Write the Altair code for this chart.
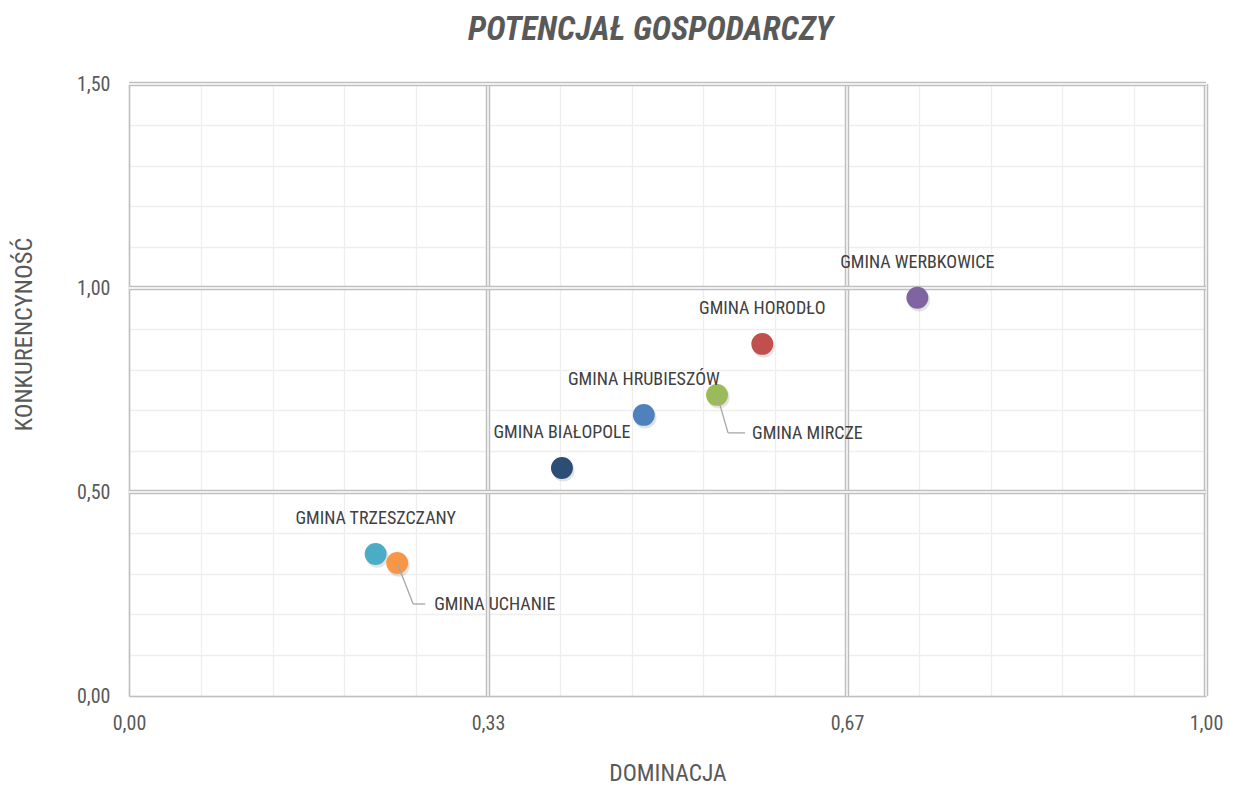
import altair as alt
import pandas as pd

# ---- data ----
names = ["Gmina Trzeszczany", "Gmina Uchanie", "Gmina Białopole", "Gmina Hrubieszów",
         "Gmina Mircze", "Gmina Horodło", "Gmina Werbkowice"]
dominacja = [0.229, 0.249, 0.402, 0.478, 0.546, 0.588, 0.732]
konkurencyjnosc = [0.348, 0.326, 0.559, 0.689, 0.738, 0.863, 0.976]
colors = ["#4BACC6", "#F79646", "#2C4D75", "#4F81BD", "#9BBB59", "#C0504D", "#8064A2"]

x_minor = [i / 15 for i in range(16)]
y_minor = [i / 10 for i in range(16)]
x_major = [1 / 3, 2 / 3, 1.0]
y_major = [0.5, 1.0, 1.5]

FONT = "Liberation Sans Narrow, Arial Narrow, Roboto Condensed, Liberation Sans, sans-serif"
TXT = "#595959"

df = pd.DataFrame({
    "name": names,
    "label": [n.upper() for n in names],
    "dom": dominacja,
    "kon": konkurencyjnosc,
})

xs = alt.Scale(domain=[0, 1], nice=False, zero=False)
ys = alt.Scale(domain=[0, 1.5], nice=False, zero=False)

x_axis = alt.Axis(
    title="DOMINACJA", values=x_minor, grid=True, gridColor="#EEEEEE", gridWidth=1.3,
    ticks=False, tickSize=0, domainColor="#BFBFBF", domainWidth=1.6,
    labelExpr="abs(datum.value*3 - round(datum.value*3)) < 0.001 ? replace(format(datum.value, '.2f'), '.', ',') : ''",
    labelFont=FONT, labelFontSize=20, labelColor=TXT, labelPadding=17,
    labelOverlap=False, labelFlush=False, labelBaseline="top",
    titleFont=FONT, titleFontSize=23.5, titleColor=TXT, titleFontWeight="normal",
    titleY=77, titleBaseline="middle")
y_axis = alt.Axis(
    title="KONKURENCYNOŚĆ", values=y_minor, grid=True, gridColor="#EEEEEE", gridWidth=1.3,
    ticks=False, tickSize=0, domainColor="#BFBFBF", domainWidth=1.6,
    labelExpr="abs(datum.value*2 - round(datum.value*2)) < 0.001 ? replace(format(datum.value, '.2f'), '.', ',') : ''",
    labelFont=FONT, labelFontSize=20, labelColor=TXT, labelPadding=19,
    labelOverlap=False, labelFlush=False,
    titleFont=FONT, titleFontSize=24.5, titleColor=TXT, titleFontWeight="normal",
    titleX=-105, titleY=250, titleAlign="center", titleBaseline="middle", titleAngle=-90)

X = alt.X("dom:Q", scale=xs, axis=x_axis)
Y = alt.Y("kon:Q", scale=ys, axis=y_axis)

base = alt.Chart(df)

points = base.mark_circle(size=480, opacity=1).encode(
    x=X, y=Y,
    color=alt.Color("name:N", scale=alt.Scale(domain=names, range=colors), legend=None),
)

shadow = base.mark_circle(size=500, color="#000000", opacity=0.11, xOffset=1.5, yOffset=2.5).encode(x=X, y=Y)

xmaj = pd.DataFrame({"dom": x_major})
ymaj = pd.DataFrame({"kon": y_major})
vmaj_g = alt.Chart(xmaj).mark_rule(color="#BFBFBF", strokeWidth=4.5).encode(x=X)
vmaj_w = alt.Chart(xmaj).mark_rule(color="#FFFFFF", strokeWidth=1.4).encode(x=X)
hmaj_g = alt.Chart(ymaj).mark_rule(color="#BFBFBF", strokeWidth=4.5).encode(y=Y)
hmaj_w = alt.Chart(ymaj).mark_rule(color="#FFFFFF", strokeWidth=1.4).encode(y=Y)

below_right = ["Gmina Mircze", "Gmina Uchanie"]

labels_above = base.transform_filter(
    ~alt.FieldOneOfPredicate(field="name", oneOf=below_right)
).mark_text(font=FONT, fontSize=18, color="#404040", align="center", baseline="middle", dy=-35).encode(
    x=X, y=Y, text="label:N",
)

mircze = base.transform_filter(alt.datum.name == "Gmina Mircze")
uchanie = base.transform_filter(alt.datum.name == "Gmina Uchanie")


def leader(chart, dx1, dy1, dx2):
    enc = dict(x=X, y=Y, x2="dom:Q", y2="kon:Q")
    seg1 = chart.mark_rule(color="#A6A6A6", strokeWidth=1.3, x2Offset=dx1, y2Offset=dy1).encode(**enc)
    seg2 = chart.mark_rule(color="#A6A6A6", strokeWidth=1.3, xOffset=dx1, yOffset=dy1,
                           x2Offset=dx2, y2Offset=dy1).encode(**enc)
    return seg1 + seg2


def side_label(chart, dx, dy):
    return chart.mark_text(font=FONT, fontSize=18, color="#404040", align="left",
                           baseline="middle", dx=dx, dy=dy).encode(
        x=X, y=Y, text="label:N",
    )


chart = alt.layer(
    vmaj_g, vmaj_w, hmaj_g, hmaj_w,
    shadow,
    points,
    leader(mircze, 11, 38, 28),
    leader(uchanie, 16, 41, 28),
    labels_above,
    side_label(mircze, 35, 39),
    side_label(uchanie, 37, 42),
).properties(
    width=1077,
    height=612,
    title=alt.Title("POTENCJAŁ GOSPODARCZY", font=FONT, fontSize=33, fontStyle="italic",
                    fontWeight="bold", color=TXT, anchor="middle", dx=-17, offset=27),
    autosize=alt.AutoSizeParams(type="none"),
    padding={"left": 121, "top": 76, "right": 18, "bottom": 93},
).configure_view(stroke=None).configure(background="white")

chart.save("out.html", embed_options={"renderer": "svg", "actions": False})
